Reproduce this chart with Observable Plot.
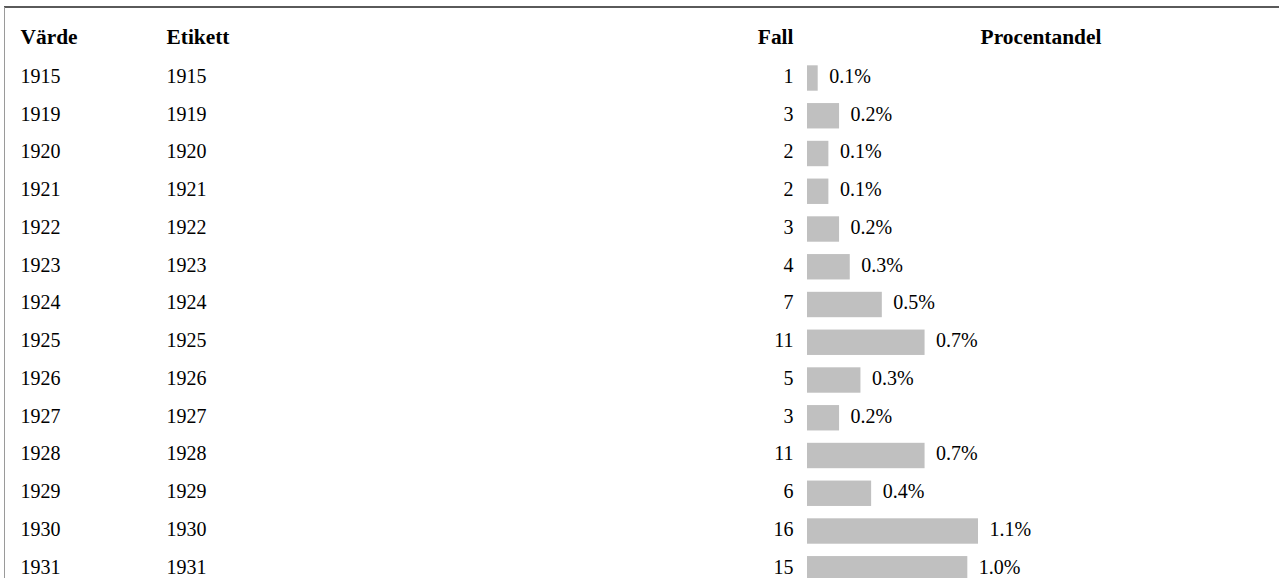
<!DOCTYPE html>
<html>
<head>
<meta charset="utf-8">
<script src="https://cdn.jsdelivr.net/npm/d3@7"></script>
<script src="https://cdn.jsdelivr.net/npm/@observablehq/plot@0.6"></script>
<style>
  html, body { margin: 0; padding: 0; background: #fff; }
  #wrap { position: relative; width: 1279px; height: 578px; overflow: hidden; }
  #topline { position: absolute; left: 4px; top: 6px; width: 1275px; height: 0; border-top: 2px solid #5a5a5a; }
  #leftline { position: absolute; left: 4px; top: 7px; width: 0; height: 571px; border-left: 1px solid #9a9a9a; }
  svg { font-family: "Liberation Serif", "Times New Roman", serif; }
</style>
</head>
<body>
<div id="wrap">
  <div id="chart"></div>
  <div id="topline"></div>
  <div id="leftline"></div>
</div>
<script>
const years = ["1915","1919","1920","1921","1922","1923","1924","1925","1926","1927","1928","1929","1930","1931"];
const labels = ["1915","1919","1920","1921","1922","1923","1924","1925","1926","1927","1928","1929","1930","1931"];
const cases = [1,3,2,2,3,4,7,11,5,3,11,6,16,15];
const percents = ["0.1%","0.2%","0.1%","0.1%","0.2%","0.3%","0.5%","0.7%","0.3%","0.2%","0.7%","0.4%","1.1%","1.0%"];
const headers = ["Värde","Etikett","Fall","Procentandel"];

const rows = years.map((y, i) => ({year: y, label: labels[i], cases: cases[i], pct: percents[i]}));

const fs = 20;
const hfs = 21.4;
const tdy = -2;
const plot = Plot.plot({
  width: 1279,
  height: 578,
  margin: 0,
  style: {fontFamily: '"Liberation Serif", "Times New Roman", serif', fontSize: fs + "px", color: "#000", background: "#fff"},
  x: {domain: [0, 16], range: [807, 978], axis: null},
  y: {domain: years, range: [52.96, 593.8], padding: 0.327, round: false, axis: null},
  marks: [
    Plot.barX(rows, {y: "year", x1: 0, x2: "cases", fill: "#c0c0c0"}),
    Plot.text(rows, {y: "year", text: "year", frameAnchor: "left", dx: 20, dy: tdy, textAnchor: "start", fill: "#000", fontSize: fs}),
    Plot.text(rows, {y: "year", text: "label", frameAnchor: "left", dx: 166, dy: tdy, textAnchor: "start", fill: "#000", fontSize: fs}),
    Plot.text(rows, {y: "year", text: d => String(d.cases), frameAnchor: "left", dx: 793, dy: tdy, textAnchor: "end", fill: "#000", fontSize: fs}),
    Plot.text(rows, {y: "year", x: "cases", text: "pct", dx: 11, dy: tdy, textAnchor: "start", fill: "#000", fontSize: fs}),
    Plot.text([headers[0]], {text: d => d, frameAnchor: "top-left", dx: 20, dy: 36.5, textAnchor: "start", lineAnchor: "middle", fontWeight: "bold", fill: "#000", fontSize: hfs}),
    Plot.text([headers[1]], {text: d => d, frameAnchor: "top-left", dx: 166, dy: 36.5, textAnchor: "start", lineAnchor: "middle", fontWeight: "bold", fill: "#000", fontSize: hfs}),
    Plot.text([headers[2]], {text: d => d, frameAnchor: "top-left", dx: 793, dy: 36.5, textAnchor: "end", lineAnchor: "middle", fontWeight: "bold", fill: "#000", fontSize: hfs}),
    Plot.text([headers[3]], {text: d => d, frameAnchor: "top-left", dx: 1040.5, dy: 36.5, textAnchor: "middle", lineAnchor: "middle", fontWeight: "bold", fill: "#000", fontSize: hfs})
  ]
});
document.getElementById("chart").appendChild(plot);
</script>
</body>
</html>
